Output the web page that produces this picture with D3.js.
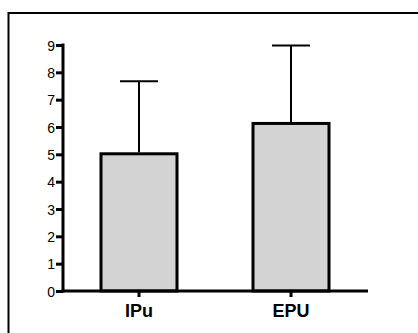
<!DOCTYPE html>
<html><head><meta charset="utf-8">
<script src="https://cdn.jsdelivr.net/npm/d3@7"></script>
<style>html,body{margin:0;padding:0;background:#fff;}svg{display:block;}</style>
</head><body>
<svg id="c" width="418" height="333"></svg>
<script>
const categories = ["IPu", "EPU"];
const means = [5.02, 6.13];
const errors = [2.65, 2.85];
const yTicks = [0,1,2,3,4,5,6,7,8,9];

const svg = d3.select("#c");
// frame
svg.append("path").attr("d","M8.5,340 L8.5,13 L420,13").attr("fill","none").attr("stroke","#000").attr("stroke-width",2);

const x0 = 63, x1 = 368, yBase = 291, yTop = 45;
const y = d3.scaleLinear().domain([0,9]).range([yBase, yTop]);
const x = d3.scaleBand().domain(categories).range([63, 367]).paddingInner(0.5).paddingOuter(0.25);

// bars
svg.selectAll("rect.bar").data(categories).join("rect")
  .attr("x", d => x(d)).attr("width", x.bandwidth())
  .attr("y", (d,i) => y(means[i])).attr("height", (d,i) => yBase - y(means[i]))
  .attr("fill","#d3d3d3").attr("stroke","#000").attr("stroke-width",3);

// error bars
const eb = svg.append("g").attr("stroke","#000").attr("stroke-width",2);
categories.forEach((c,i) => {
  const cx = x(c) + x.bandwidth()/2;
  eb.append("line").attr("x1",cx).attr("x2",cx).attr("y1",y(means[i])-1.5).attr("y2",y(means[i]+errors[i]));
  eb.append("line").attr("x1",cx-19).attr("x2",cx+19).attr("y1",y(means[i]+errors[i])).attr("y2",y(means[i]+errors[i]));
});

// y axis
const yAxis = d3.axisLeft(y).tickValues(yTicks).tickSize(7).tickPadding(1);
const gy = svg.append("g").attr("transform",`translate(${x0},0)`).call(yAxis);
gy.select(".domain").remove();
gy.selectAll(".tick line").attr("stroke","#000").attr("stroke-width",3);
gy.selectAll(".tick text").attr("font-family","Arial, 'Liberation Sans', sans-serif").attr("font-size",14).attr("fill","#000").attr("dy","0.36em");
svg.append("line").attr("x1",x0).attr("x2",x0).attr("y1",yTop-1.5).attr("y2",yBase+1.5).attr("stroke","#000").attr("stroke-width",3);

// x axis
const xAxis = d3.axisBottom(x).tickSize(6).tickPadding(0);
const gx = svg.append("g").attr("transform",`translate(0,${yBase})`).call(xAxis);
gx.select(".domain").remove();
gx.selectAll(".tick line").attr("stroke","#000").attr("stroke-width",3);
gx.selectAll(".tick text").attr("font-family","Arial, 'Liberation Sans', sans-serif").attr("font-size",18).attr("font-weight","bold").attr("fill","#000").attr("dy",null).attr("y",26);
svg.append("line").attr("x1",x0-1.5).attr("x2",x1).attr("y1",yBase).attr("y2",yBase).attr("stroke","#000").attr("stroke-width",3);
</script>
</body></html>
